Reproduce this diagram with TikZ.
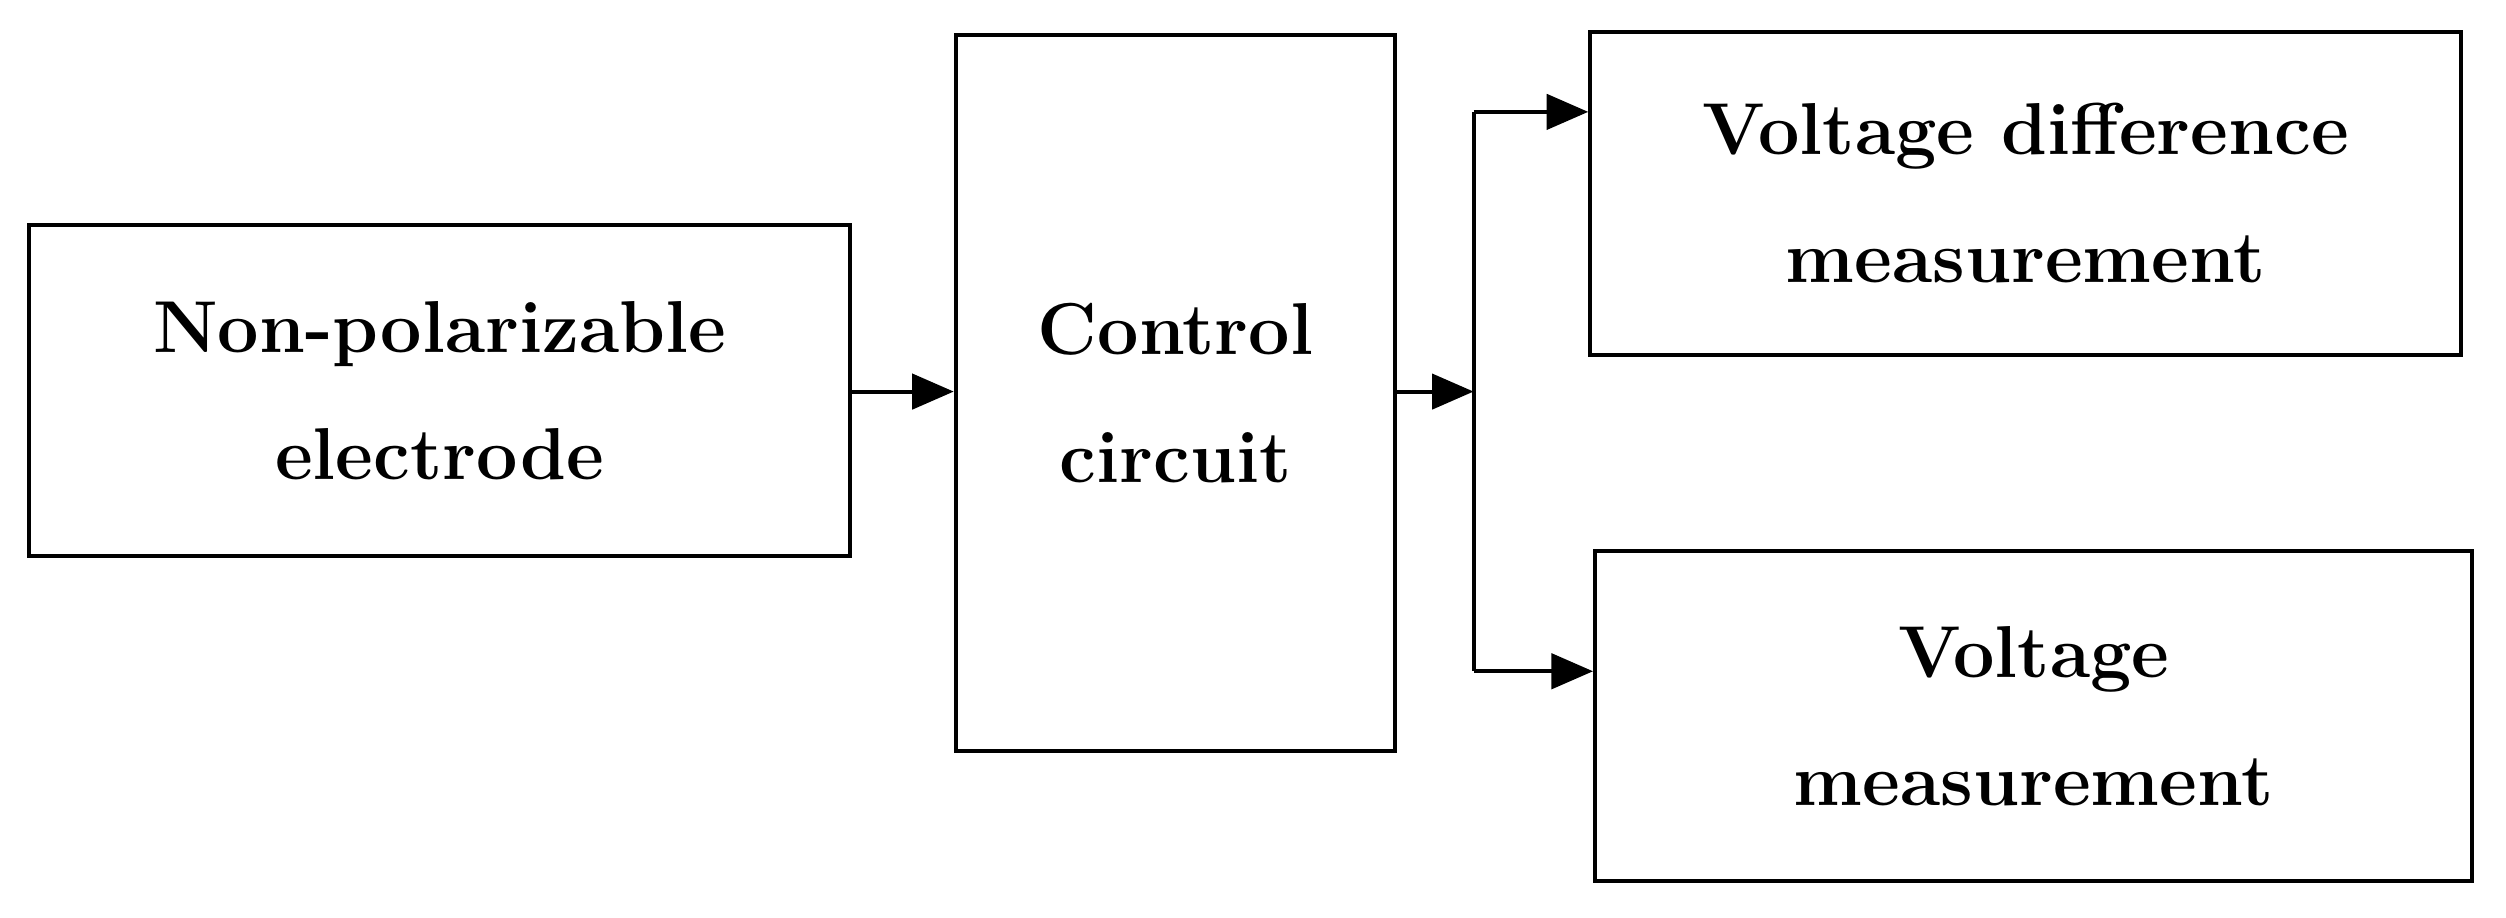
\documentclass[tikz,border=0pt]{standalone}
\usetikzlibrary{arrows.meta}
\begin{document}
\begin{tikzpicture}[x=1pt,y=-1pt,
  box/.style={draw,line width=2.5pt,align=center,font=\fontsize{46}{80}\selectfont\bfseries},
  arr/.style={line width=2.5pt,-{Triangle[length=26pt,width=22pt]}}]
\useasboundingbox (0,0) rectangle (1568,574);
\node[box,minimum width=514pt,minimum height=207pt] (a) at (275,244.5) {Non-polarizable\\electrode};
\node[box,minimum width=275pt,minimum height=448pt] (b) at (735.5,246) {Control\\circuit};
\node[box,minimum width=545pt,minimum height=202pt] (c) at (1267.5,121) {Voltage difference\\measurement};
\node[box,minimum width=549pt,minimum height=206pt] (d) at (1272.5,448) {Voltage\\measurement};
\coordinate (j) at (922,245);
\coordinate (j1) at (922,70);
\coordinate (j2) at (922,420);
\draw[arr] (a.east |- 0,245) -- (b.west |- 0,245);
\draw[arr] (b.east |- j) -- (j);
\draw[line width=2.5pt] (j1) -- (j2);
\draw[arr] (j1) -- (c.west |- j1);
\draw[arr] (j2) -- (d.west |- j2);
\end{tikzpicture}
\end{document}
